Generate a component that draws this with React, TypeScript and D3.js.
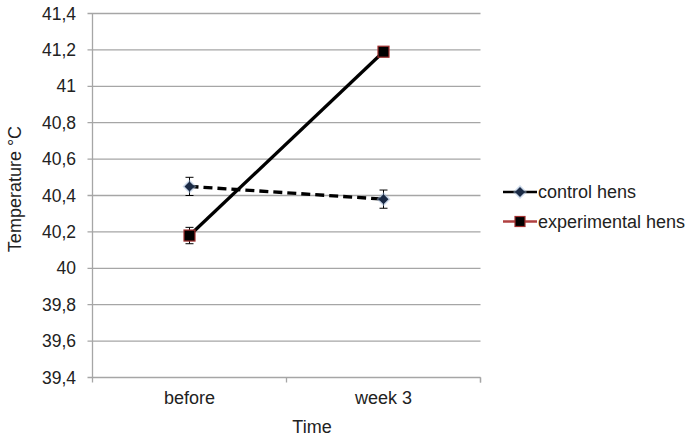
import React from "react";
import * as d3 from "d3";

const categories = ["before", "week 3"];
const controlValues = [40.45, 40.38];
const controlErrors = [0.05, 0.05];
const experimentalValues = [40.18, 41.19];
const experimentalErrors = [0.045, 0.02];
const yTicks = [39.4, 39.6, 39.8, 40, 40.2, 40.4, 40.6, 40.8, 41, 41.2, 41.4];
const seriesNames = ["control hens", "experimental hens"];

const W = 697;
const H = 440;
const left = 92.5;
const right = 480.5;
const top = 13.5;
const bottom = 377.5;
const font = "'Liberation Sans', Arial, sans-serif";

export default function App() {
  const x = d3.scaleBand<string>().domain(categories).range([left, right]);
  const y = d3.scaleLinear().domain([39.4, 41.4]).range([bottom, top]);
  const cx = (c: string) => (x(c) as number) + x.bandwidth() / 2;
  const line = d3
    .line<number>()
    .x((_, i) => cx(categories[i]))
    .y((d) => y(d));
  const fmt = (v: number) => String(+v.toFixed(1)).replace(".", ",");

  const errorBar = (c: string, v: number, e: number, key: string) => (
    <g key={key} stroke="#000" strokeWidth={1}>
      <line x1={cx(c)} x2={cx(c)} y1={y(v + e)} y2={y(v - e)} />
      <line x1={cx(c) - 4} x2={cx(c) + 4} y1={y(v + e)} y2={y(v + e)} />
      <line x1={cx(c) - 4} x2={cx(c) + 4} y1={y(v - e)} y2={y(v - e)} />
    </g>
  );
  const diamond = (px: number, py: number, key: string) => (
    <g key={key}>
      <path
        d={`M${px},${py - 7}L${px + 7},${py}L${px},${py + 7}L${px - 7},${py}Z`}
        fill="#9ab4d6"
        opacity={0.5}
      />
      <path
        d={`M${px},${py - 5}L${px + 5},${py}L${px},${py + 5}L${px - 5},${py}Z`}
        fill="#1a2a45"
      />
    </g>
  );
  const square = (px: number, py: number, key: string, s = 11) => (
    <rect
      key={key}
      x={px - s / 2}
      y={py - s / 2}
      width={s}
      height={s}
      fill="#000"
      stroke="#a03030"
      strokeWidth={1.2}
    />
  );

  return (
    <svg
      width={W}
      height={H}
      style={{ position: "absolute", left: 0, top: 0, background: "#fff" }}
      fontFamily={font}
    >
      {yTicks.map((t) => (
        <g key={t}>
          <line x1={left - 5} x2={right} y1={y(t)} y2={y(t)} stroke="#a6a6a6" strokeWidth={1.3} />
          <text x={76} y={y(t)} dy="0.35em" textAnchor="end" fontSize={17.5} fill="#222">
            {fmt(t)}
          </text>
        </g>
      ))}
      <line x1={left} x2={left} y1={top} y2={bottom} stroke="#a6a6a6" strokeWidth={1.3} />
      {[left, ...categories.map((c) => (x(c) as number) + x.bandwidth()), right].map((px, i) => (
        <line key={i} x1={px} x2={px} y1={bottom} y2={bottom + 5} stroke="#a6a6a6" strokeWidth={1.3} />
      ))}
      {categories.map((c) => (
        <text key={c} x={cx(c)} y={398} dy="0.35em" textAnchor="middle" fontSize={18} fill="#222">
          {c}
        </text>
      ))}
      <text x={312} y={427} dy="0.35em" textAnchor="middle" fontSize={18} fill="#222">
        Time
      </text>
      <text
        transform={`translate(15,189) rotate(-90)`}
        dy="0.35em"
        textAnchor="middle"
        fontSize={18}
        fill="#222"
      >
        Temperature °C
      </text>

      {categories.map((c, i) => errorBar(c, controlValues[i], controlErrors[i], "ce" + i))}
      {categories.map((c, i) => errorBar(c, experimentalValues[i], experimentalErrors[i], "ee" + i))}

      <path d={line(experimentalValues) || ""} fill="none" stroke="#000" strokeWidth={3.3} />
      <path d={line(controlValues) || ""} fill="none" stroke="#000" strokeWidth={3.3} strokeDasharray="9,5" />

      {categories.map((c, i) => diamond(cx(c), y(controlValues[i]), "cm" + i))}
      {categories.map((c, i) => square(cx(c), y(experimentalValues[i]), "em" + i))}

      <g>
        <line x1={503} x2={537} y1={192} y2={192} stroke="#000" strokeWidth={2.5} />
        {diamond(520, 192, "lg0")}
        <text x={538} y={192} dy="0.35em" fontSize={18} fill="#222">
          {seriesNames[0]}
        </text>
        <line x1={503} x2={537} y1={221.5} y2={221.5} stroke="#b04040" strokeWidth={2.5} />
        {square(520, 221.5, "lg1", 10)}
        <text x={538} y={221.5} dy="0.35em" fontSize={18} fill="#222">
          {seriesNames[1]}
        </text>
      </g>
    </svg>
  );
}
